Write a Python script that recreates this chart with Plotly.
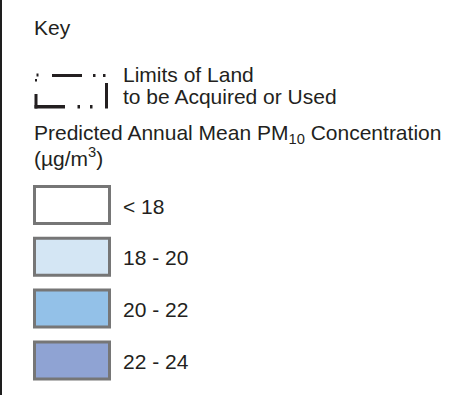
import plotly.graph_objects as go

# ---- data ----
title_text = "Key"
boundary_label = ["Limits of Land", "to be Acquired or Used"]
heading = ["Predicted Annual Mean PM<sub>10</sub> Concentration", "(µg/m<sup>3</sup>)"]
class_labels = ["< 18", "18 - 20", "20 - 22", "22 - 24"]
class_colors = ["#ffffff", "#d4e6f4", "#93c1e8", "#8fa3d3"]

# ---- layout constants ----
W, H = 461, 395
FONT = dict(family="Liberation Sans, Arial, Helvetica, sans-serif", size=21, color="#231f20")
TEXT_X = 123
BOX_X0, BOX_X1 = 34.5, 109.5
BOX_TOP, BOX_H, BOX_STEP = 186.5, 37, 51.8
INK = "#231f20"

fig = go.Figure()
shapes = []
annotations = []

# left frame line
shapes.append(dict(type="rect", xref="x", yref="y", x0=0, x1=2, y0=0, y1=H,
                   fillcolor="#1e1e1e", line=dict(width=0)))

# boundary symbol pieces (x0, x1, y0, y1)
symbol = [
    (36.5, 38.5, 73.5, 76.5),
    (35.0, 37.0, 79.0, 81.5),
    (52.0, 82.0, 74.0, 77.0),
    (93.0, 95.5, 74.0, 77.0),
    (103.0, 105.5, 74.0, 77.0),
    (34.5, 37.5, 94.0, 108.5),
    (34.5, 65.0, 105.0, 108.5),
    (77.5, 80.0, 105.0, 108.5),
    (90.0, 92.5, 105.0, 108.5),
    (105.0, 108.0, 83.0, 108.5),
]
for x0, x1, y0, y1 in symbol:
    shapes.append(dict(type="rect", xref="x", yref="y", x0=x0, x1=x1, y0=y0, y1=y1,
                       fillcolor=INK, line=dict(width=0)))

def text(x, y, s):
    annotations.append(dict(x=x, y=y, xref="x", yref="y", text=s, showarrow=False,
                            xanchor="left", yanchor="middle", font=FONT, align="left"))

text(32, 27, title_text)
text(TEXT_X - 2, 74, boundary_label[0])
text(TEXT_X - 2, 96, boundary_label[1])
text(32, 134, heading[0])
text(32, 157, heading[1])

for i, (lab, col) in enumerate(zip(class_labels, class_colors)):
    y0 = BOX_TOP + i * BOX_STEP
    y1 = y0 + BOX_H
    shapes.append(dict(type="rect", xref="x", yref="y", x0=BOX_X0, x1=BOX_X1, y0=y0, y1=y1,
                       fillcolor=col, line=dict(color="#767676", width=3)))
    text(TEXT_X - 2, (y0 + y1) / 2 + 1, lab)

fig.update_layout(
    width=W, height=H,
    margin=dict(l=0, r=0, t=0, b=0),
    paper_bgcolor="white", plot_bgcolor="white",
    xaxis=dict(range=[0, W], visible=False, fixedrange=True),
    yaxis=dict(range=[H, 0], visible=False, fixedrange=True),
    shapes=shapes, annotations=annotations, showlegend=False,
)

fig.write_html(
    "out.html",
    config={"displayModeBar": False},
    post_script="document.body.style.margin='0';document.body.style.overflow='hidden';",
)
